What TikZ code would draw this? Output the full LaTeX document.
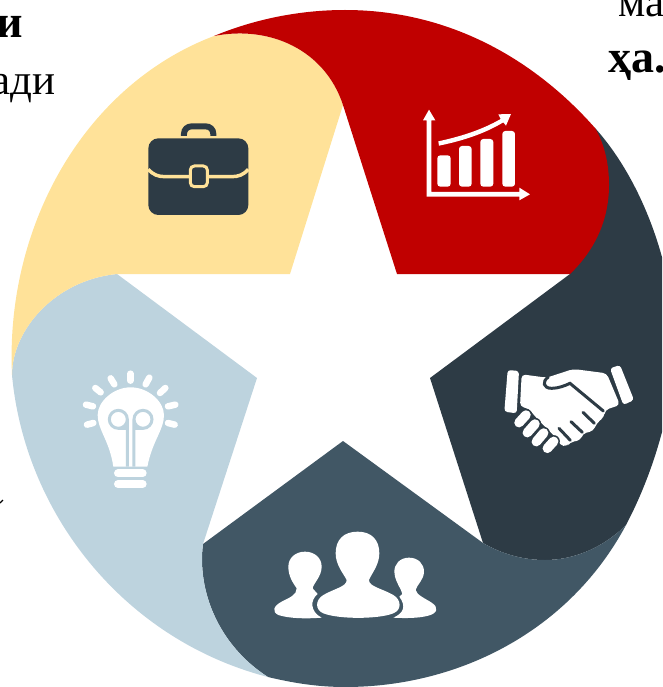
\documentclass[tikz,border=0pt]{standalone}
\usepackage{fontspec}
\setmainfont{Liberation Serif}
\definecolor{petalRed}{HTML}{C00000}
\definecolor{petalYellow}{HTML}{FFE299}
\definecolor{petalLight}{HTML}{BDD3DE}
\definecolor{petalSlate}{HTML}{415765}
\definecolor{petalDark}{HTML}{2D3B45}
\tikzset{
    cut/.style={inner sep=0,font=\fontsize{43}{50}\selectfont},
    cutbold/.style={inner sep=0,font=\fontsize{46}{52}\selectfont\bfseries},
    ray/.style={white,line cap=round,line width=6.5pt},
    capsule/.style={line cap=round,line width=#1},
}
\begin{document}
\begin{tikzpicture}[x=1pt,y=-1pt]
    \useasboundingbox (0,0) rectangle (662,687);
    \clip (0,0) rectangle (662,687);

    % star points and the seams of the ring
    \coordinate (top) at (343,105);
    \coordinate (innerRight) at (397,274);
    \coordinate (tipRight) at (570,274);
    \coordinate (innerLow) at (430,378);
    \coordinate (tipLow) at (483,543);
    \coordinate (innerBottom) at (343,441);
    \coordinate (tipBottom) at (203,544);
    \coordinate (innerLeft) at (257,378);
    \coordinate (tipLeft) at (117,274);
    \coordinate (innerTop) at (290,274);
    \coordinate (seamA) at (214,36);
    \coordinate (seamB) at (595,128);
    \coordinate (seamC) at (626,525);
    \coordinate (seamD) at (268,677);
    \coordinate (seamE) at (12,375);

    \fill [petalDark] (seamB) .. controls (640,178) and (672,260) .. (675,340) .. controls (675,400) and (655,470) .. (seamC)
        .. controls (606,545) and (577,560) .. (545,560) .. controls (523,560) and (502,554) .. (tipLow)
        -- (innerLow) -- (tipRight) -- cycle;
    \fill [petalSlate] (tipBottom) -- (innerBottom) -- (tipLow) .. controls (502,554) and (523,560) .. (545,560)
        .. controls (577,560) and (606,545) .. (seamC) .. controls (570,630) and (460,687) .. (345,687)
        .. controls (318,687) and (293,683) .. (seamD) .. controls (218,645) and (197,590) .. (tipBottom) -- cycle;
    \fill [petalLight] (seamE) .. controls (12,330) and (55,280) .. (tipLeft) -- (innerLeft) -- (tipBottom)
        .. controls (197,590) and (218,645) .. (seamD) .. controls (125,640) and (25,515) .. (seamE) -- cycle;
    \fill [petalYellow] (seamA) .. controls (270,25) and (325,50) .. (top) -- (innerTop) -- (tipLeft)
        .. controls (55,280) and (12,330) .. (seamE) .. controls (5,225) and (85,85) .. (seamA) -- cycle;
    \fill [petalRed] (seamA) .. controls (255,19) and (300,10) .. (345,10) .. controls (450,10) and (535,60) .. (seamB)
        .. controls (605,145) and (609,165) .. (609,185) .. controls (609,220) and (595,250) .. (tipRight)
        -- (innerRight) -- (top) .. controls (325,50) and (270,25) .. (seamA) -- cycle;

    % briefcase
    \begin{scope}[shift={(130,110)},scale=0.3333]
        \draw [petalDark,line width=6pt] (162,78) -- (162,72) .. controls (162,58) and (172,49) .. (186,49) -- (226,49) .. controls (240,49) and (250,58) .. (250,72) -- (250,78);
        \fill [petalDark,rounded corners=10pt] (55,85) rectangle (355,315);
        \draw [petalYellow,line width=3.5pt] (55,178) .. controls (70,195) and (85,200) .. (105,200) -- (180,200) (235,200) -- (305,200) .. controls (325,200) and (340,195) .. (355,178);
        \draw [petalYellow,fill=petalDark,line width=3pt,rounded corners=4pt] (181,168) rectangle (232,230);
    \end{scope}

    % chart
    \begin{scope}[shift={(410,95)},scale=0.3333]
        \fill [white] (57,44) -- (76,76) -- (64,76) -- (64,291) -- (328,291) -- (328,278) -- (360,298) -- (328,316) -- (328,305) -- (50,305) -- (50,76) -- (39,76) -- cycle;
        \fill [white,rounded corners=3pt] (82,181) rectangle (122,275);
        \fill [white,rounded corners=3pt] (147,153) rectangle (185,275);
        \fill [white,rounded corners=3pt] (211,132) rectangle (250,275);
        \fill [white,rounded corners=3pt] (277,108) rectangle (315,275);
        \fill [white] (85,139) .. controls (150,125) and (215,105) .. (272,72) -- (265,58) -- (303,57) -- (288,92) -- (280,82) .. controls (220,118) and (155,138) .. (87,152) -- cycle;
    \end{scope}

    % handshake
    \begin{scope}[shift={(495,355)},scale=0.3333]
        \fill [white,rounded corners=3pt] (38,45) -- (72,48) -- (65,175) -- (28,170) -- cycle;
        \fill [white,rounded corners=3pt] (345,40) -- (375,30) -- (417,135) -- (385,150) -- cycle;
        \fill [white,rounded corners=4pt] (80,58) -- (155,68) -- (235,42) -- (335,55) -- (375,150) -- (330,165) -- (328,185) -- (305,205) -- (295,228) -- (262,236) -- (258,255) -- (225,262) -- (215,275) -- (195,270) -- (180,245) -- (130,195) -- (100,160) -- (75,155) -- cycle;
        \draw [petalDark,line width=3pt,line cap=round] (160,66) .. controls (140,80) and (145,100) .. (170,100) .. controls (190,100) and (210,92) .. (225,85) -- (325,168);
        \draw [petalDark,line width=3pt,line cap=round] (264,172) -- (298,205) (228,200) -- (262,232) (192,220) -- (226,256);
        \foreach \ax/\ay/\bx/\by in {72/203/93/180,97/233/120/207,124/260/146/234,157/280/176/259}
            \draw [petalDark,capsule=12.5pt] (\ax,\ay) -- (\bx,\by);
        \foreach \ax/\ay/\bx/\by in {72/203/93/180,97/233/120/207,124/260/146/234,157/280/176/259}
            \draw [white,capsule=9.5pt] (\ax,\ay) -- (\bx,\by);
    \end{scope}

    % people
    \begin{scope}[shift={(265,520)},scale=0.3333]
        \fill [white] (278,35) .. controls (320,35) and (343,60) .. (343,100) .. controls (343,135) and (320,160) .. (312,180) .. controls (312,200) and (350,205) .. (385,225) .. controls (410,240) and (410,270) .. (385,280) .. controls (340,298) and (220,298) .. (175,280) .. controls (150,270) and (150,240) .. (175,225) .. controls (210,205) and (245,200) .. (245,180) .. controls (235,160) and (212,135) .. (212,100) .. controls (212,60) and (235,35) .. (278,35) -- cycle;
        \fill [white] (120,95) .. controls (150,95) and (170,115) .. (170,140) .. controls (170,170) and (145,190) .. (143,205) -- (158,222) .. controls (135,240) and (135,275) .. (170,293) .. controls (120,297) and (70,295) .. (40,285) .. controls (20,275) and (25,258) .. (50,245) .. controls (75,232) and (95,225) .. (95,205) .. controls (85,190) and (70,170) .. (70,140) .. controls (70,115) and (90,95) .. (120,95) -- cycle;
        \fill [white] (432,113) .. controls (460,113) and (477,132) .. (477,155) .. controls (477,180) and (455,195) .. (452,210) .. controls (455,225) and (480,235) .. (500,248) .. controls (522,262) and (518,280) .. (490,287) .. controls (460,295) and (420,295) .. (385,293) .. controls (415,280) and (425,260) .. (403,230) -- (412,222) -- (408,210) .. controls (400,195) and (388,175) .. (388,155) .. controls (388,132) and (405,113) .. (432,113) -- cycle;
    \end{scope}

    % bulb
    \begin{scope}[shift={(70,360)},scale=0.3333]
        \foreach \ax/\ay/\bx/\by in {181/41/181/62,122/55/133/73,76/84/92/97,48/134/69/139,51/194/70/189,238/53/227/73,286/84/270/99,316/134/294/139,314/194/294/189}
            \draw [ray] (\ax,\ay) -- (\bx,\by);
        \fill [white] (182,82) .. controls (235,82) and (282,125) .. (282,165) .. controls (282,210) and (248,240) .. (232,320) -- (130,320) .. controls (118,240) and (83,210) .. (83,165) .. controls (83,125) and (130,82) .. (182,82) -- cycle;
        \draw [petalLight,line width=3pt] (172,320) -- (172,178) arc[start angle=0,end angle=360,radius=27] (172,205) -- (145,205);
        \draw [petalLight,line width=3pt] (192,320) -- (192,178) arc[start angle=180,end angle=-180,radius=27] (192,205) -- (219,205);
        \draw [white,capsule=8pt] (144,340) -- (218,340);
        \draw [white,capsule=8pt] (144,372) -- (218,372);
    \end{scope}

    % cut off text at the edges
    \node (leftBold) [cutbold,anchor=base east] at (23,38) {и};
    \node (leftLine) [cut,anchor=base east] at (56,95) {ади};
    \node (rightLine) [cut,anchor=base west] at (618,17) {ма};
    \node (rightBold) [cutbold,anchor=base west] at (608,73) {ҳа.};
    \draw [line width=1.2pt] (0,503) -- (3,500);
\end{tikzpicture}
\end{document}
